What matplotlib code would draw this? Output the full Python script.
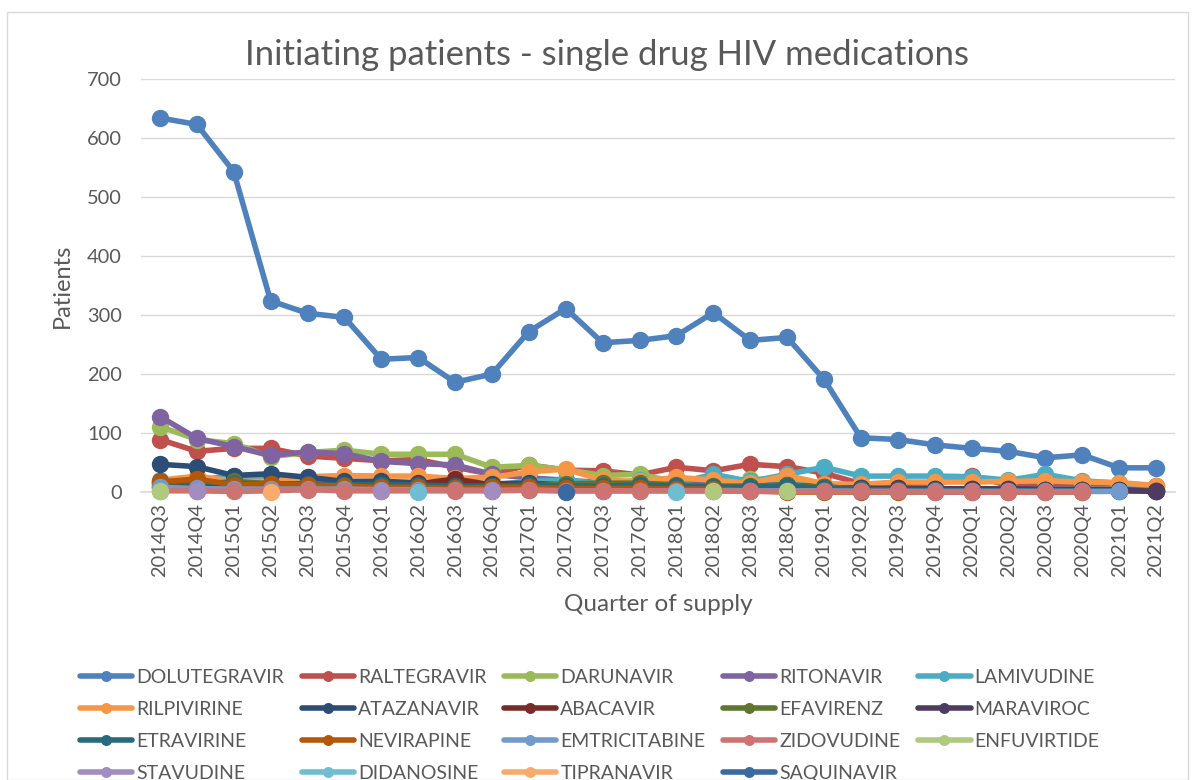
import numpy as np
import matplotlib.pyplot as plt
from matplotlib.patches import Rectangle

plt.rcParams['font.family'] = ['Lato', 'DejaVu Sans']

nan = np.nan
quarters = ['2014Q3', '2014Q4', '2015Q1', '2015Q2', '2015Q3', '2015Q4', '2016Q1', '2016Q2',
            '2016Q3', '2016Q4', '2017Q1', '2017Q2', '2017Q3', '2017Q4', '2018Q1', '2018Q2',
            '2018Q3', '2018Q4', '2019Q1', '2019Q2', '2019Q3', '2019Q4', '2020Q1', '2020Q2',
            '2020Q3', '2020Q4', '2021Q1', '2021Q2']

drugs = ['DOLUTEGRAVIR', 'RALTEGRAVIR', 'DARUNAVIR', 'RITONAVIR', 'LAMIVUDINE',
         'RILPIVIRINE', 'ATAZANAVIR', 'ABACAVIR', 'EFAVIRENZ', 'MARAVIROC',
         'ETRAVIRINE', 'NEVIRAPINE', 'EMTRICITABINE', 'ZIDOVUDINE', 'ENFUVIRTIDE',
         'STAVUDINE', 'DIDANOSINE', 'TIPRANAVIR', 'SAQUINAVIR']

colors = ['#4F81BD', '#C0504D', '#9BBB59', '#8064A2', '#4BACC6',
          '#F79646', '#2C4D75', '#772C2A', '#5F7530', '#4D3B62',
          '#276A7C', '#B65708', '#729ACA', '#CD7371', '#AFC97E',
          '#A18DBF', '#6FBDD1', '#F9AB6B', '#3A6AA0']

dolutegravir = [634, 623, 543, 324, 303, 296, 225, 228, 186, 200, 272, 311, 253, 257,
                265, 304, 257, 262, 191, 92, 89, 80, 74, 69, 58, 63, 41, 41]
raltegravir = [89, 69, 74, 74, 61, 57, 53, 55, 42, 30, 46, 37, 36, 29,
               42, 36, 47, 43, 32, 14, 14, 13, 28, 11, 14, 12, 14, 11]
darunavir = [111, 89, 82, 60, 67, 71, 64, 64, 64, 42, 45, 38, 28, 30,
             17, 14, 22, 20, 8, 6, 6, 5, 5, 5, 5, 5, 4, 3]
ritonavir = [128, 91, 77, 62, 68, 65, 52, 48, 46, 30, 24, 20, 16, 14,
             14, 12, 12, 12, 10, 8, 6, 5, 5, 5, 5, 5, 4, 3]
lamivudine = [15, 20, 28, 22, 20, 15, 14, 13, 10, 12, 18, 20, 14, 20,
              15, 30, 18, 30, 42, 27, 27, 27, 26, 20, 30, 19, 15, 10]
rilpivirine = [20, 27, 18, 18, 26, 28, 27, 27, 23, 25, 34, 39, 20, 18,
               25, 20, 15, 28, 14, 13, 17, 17, 17, 18, 19, 17, 16, 11]
atazanavir = [47, 43, 28, 31, 25, 18, 18, 16, 15, 14, 15, 12, 10, 10,
              10, 8, 8, 10, 8, 6, 6, 5, 5, 5, 4, 4, 3, 2]
abacavir = [10, 12, 12, 14, 12, 12, 10, 14, 22, 12, 12, 10, 8, 10,
            8, 8, 8, 12, 8, 6, 6, 5, 5, 5, 4, 4, 3, 2]
efavirenz = [15, 12, 18, 14, 12, 12, 12, 10, 8, 10, 10, 14, 15, 15,
             12, 10, 10, 12, 8, 6, 5, 4, 4, 4, 3, 3, 2, 2]
maraviroc = [8, 8, 8, 10, 8, 8, 6, 8, 10, 8, 8, 6, 6, 6,
             5, 5, 6, 8, 5, 6, 5, 5, 5, 5, 4, 4, 3, 1]
etravirine = [18, 18, 14, 14, 14, 12, 12, 12, 10, 10, 12, 10, 10, 12,
              10, 8, 8, 10, 6, 5, 3, 3, 2, 2, 2, 2, 2, nan]
nevirapine = [17, 22, 12, 14, 12, 10, 8, 8, 6, 8, 8, 6, 6, 6,
              5, 5, 2, 0, 0, 0, 0, 0, 0, 0, 0, 0, nan, nan]
emtricitabine = [8, 6, 5, 5, 5, 5, 4, 4, 3, 3, 3, 2, 2, 2,
                 2, 2, 2, 2, 2, 1, 1, 1, 1, 1, 1, 1, 1, nan]
zidovudine = [2, 2, 1, 2, 4, 2, 2, 2, 2, 2, 3, 2, 2, 2,
              2, 2, 1, 1, 1, 1, 1, 0, 0, 0, 0, 0, nan, nan]
enfuvirtide = [1, nan, nan, nan, nan, nan, nan, nan, nan, nan, nan, nan, nan, nan,
               nan, 1, nan, 1, nan, nan, nan, nan, nan, nan, nan, nan, nan, nan]
stavudine = [nan, 1, nan, nan, nan, nan, 1, nan, nan, 1, nan, nan, nan, nan,
             nan, nan, nan, nan, nan, nan, nan, nan, nan, nan, nan, nan, nan, nan]
didanosine = [nan, nan, nan, nan, nan, nan, nan, 0, nan, nan, nan, nan, nan, nan,
              0, nan, nan, nan, nan, nan, nan, nan, nan, nan, nan, nan, nan, nan]
tipranavir = [nan, nan, nan, 0, nan, nan, nan, nan, nan, nan, nan, nan, nan, nan,
              nan, nan, nan, nan, nan, nan, nan, nan, nan, nan, nan, nan, nan, nan]
saquinavir = [nan, nan, nan, nan, nan, nan, nan, nan, nan, nan, nan, 0, nan, nan,
              nan, nan, nan, nan, nan, nan, nan, nan, nan, nan, nan, nan, nan, nan]

series = [dolutegravir, raltegravir, darunavir, ritonavir, lamivudine,
          rilpivirine, atazanavir, abacavir, efavirenz, maraviroc,
          etravirine, nevirapine, emtricitabine, zidovudine, enfuvirtide,
          stavudine, didanosine, tipranavir, saquinavir]

txt = '#595959'
fig = plt.figure(figsize=(11.93, 7.8), dpi=100)
ax = fig.add_axes([0.1186, 0.3692, 0.8659, 0.5295])

x = np.arange(len(quarters))
handles = []
for i, (name, vals, c) in enumerate(zip(drugs, series, colors)):
    h, = ax.plot(x, vals, color=c, lw=4, marker='o', ms=11.5,
                 solid_capstyle='round', label=name, zorder=3 + i * 0.1, clip_on=False)
    handles.append(h)

ax.set_xlim(-0.5, len(quarters) - 0.5)
ax.set_ylim(0, 700)
ax.set_yticks(range(0, 701, 100))
ax.set_xticks(x)
ax.set_xticklabels(quarters, rotation=90)
ax.tick_params(axis='both', length=0, labelsize=14.4, labelcolor=txt)
ax.tick_params(axis='x', pad=8)
ax.tick_params(axis='y', pad=14)
ax.grid(axis='y', color='#d9d9d9', lw=1)
ax.set_axisbelow(True)
for s in ['top', 'right', 'left']:
    ax.spines[s].set_visible(False)
ax.spines['bottom'].set_color('#d9d9d9')
ax.spines['bottom'].set_linewidth(1.2)

ax.set_ylabel('Patients', fontsize=17, color=txt, labelpad=10)
ax.set_xlabel('Quarter of supply', fontsize=17.5, color=txt, labelpad=12)
fig.text(0.509, 0.929, 'Initiating patients - single drug HIV medications',
         ha='center', va='center', fontsize=25, color=txt)

# legend order: row-wise like Excel
order = []
for c in range(5):
    for r in range(4):
        k = r * 5 + c
        if k < len(handles):
            order.append(k)
leg = fig.legend([handles[k] for k in order], [drugs[k] for k in order],
                 ncol=5, loc='upper left', bbox_to_anchor=(0.0605, 0.152),
                 frameon=False, fontsize=14, handlelength=2.7, markerscale=0.6,
                 columnspacing=0.9, labelspacing=0.76, handletextpad=0.2,
                 borderaxespad=0)
for t in leg.get_texts():
    t.set_color(txt)

fig.patches.append(Rectangle((0.006, 0.0), 0.99, 0.985, transform=fig.transFigure,
                             fill=False, edgecolor='#d9d9d9', lw=1))

fig.savefig('out.png', dpi=100)
